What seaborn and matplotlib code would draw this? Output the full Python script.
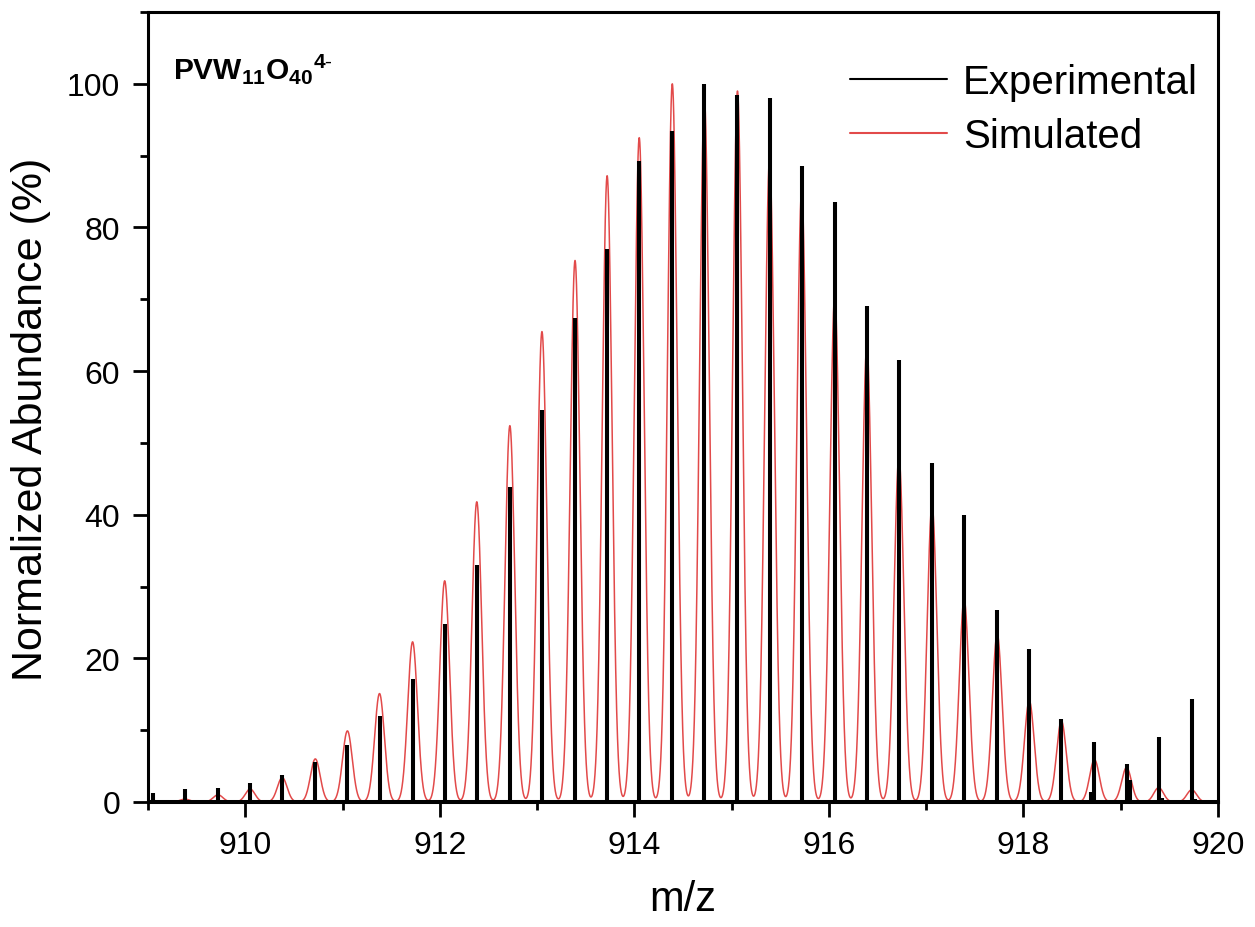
import numpy as np
import pandas as pd
import matplotlib
matplotlib.use("Agg")
import matplotlib.pyplot as plt
import seaborn as sns
from matplotlib.ticker import MultipleLocator
from matplotlib.lines import Line2D

# ---------------- data ----------------
peak_mz = [909.05, 909.38, 909.72, 910.05, 910.38, 910.72, 911.05, 911.38,
           911.72, 912.05, 912.38, 912.72, 913.05, 913.39, 913.72, 914.05,
           914.39, 914.72, 915.06, 915.39, 915.72, 916.06, 916.39, 916.72,
           917.06, 917.39, 917.73, 918.06, 918.39, 918.73, 919.06, 919.39,
           919.73]
exp_int = [1.3, 1.8, 2.0, 2.7, 3.8, 5.6, 8.0, 12.0, 17.1, 24.8, 33.0, 43.8,
           54.6, 67.4, 77.0, 89.2, 93.5, 100.0, 98.5, 98.0, 88.5, 83.5, 69.0,
           61.6, 47.2, 39.9, 26.8, 21.3, 11.6, 8.4, 5.3, 9.1, 14.4]
sim_int = [0.2, 0.4, 1.0, 1.8, 3.4, 6.0, 9.9, 15.1, 22.3, 30.8, 41.8, 52.4,
           65.5, 75.4, 87.2, 92.5, 100.0, 97.8, 99.0, 89.5, 85.2, 70.5, 63.5,
           48.0, 41.3, 28.2, 23.4, 14.1, 11.3, 5.9, 4.8, 2.0, 1.7]
# small satellite features in the experimental trace
sat_mz = [918.69, 919.095, 919.42, 919.76]
sat_int = [1.4, 3.1, 0.5, 0.4]

x_range = (909, 920)
y_range = (0, 110)
x_ticks = [910, 912, 914, 916, 918, 920]
y_ticks = [0, 20, 40, 60, 80, 100]
series_names = ["Experimental", "Simulated"]
annotation = r"$\mathbf{PVW_{11}O_{40}{}^{4\text{-}}}$"

# ---------------- build profiles ----------------
sticks = sorted(zip(peak_mz + sat_mz, exp_int + sat_int))
ex, ey = [x_range[0]], [0.0]
for m, h in sticks:
    ex += [m, m, m]
    ey += [0.0, h, 0.0]
ex.append(x_range[1]); ey.append(0.0)
exp_df = pd.DataFrame({"mz": ex, "intensity": ey, "series": series_names[0]})

sigma = 0.05  # simulated peak width (m/z)
grid = np.linspace(x_range[0], x_range[1], 11001)
prof = np.zeros_like(grid)
for m, h in zip(peak_mz, sim_int):
    prof += h * np.exp(-0.5 * ((grid - m) / sigma) ** 2)
sim_df = pd.DataFrame({"mz": grid, "intensity": prof, "series": series_names[1]})

# ---------------- style ----------------
sns.set_theme(style="ticks")
plt.rcParams["font.family"] = ["Liberation Sans", "DejaVu Sans"]
plt.rcParams["mathtext.fontset"] = "custom"
plt.rcParams["mathtext.rm"] = "Liberation Sans"
plt.rcParams["mathtext.bf"] = "Liberation Sans:bold"
plt.rcParams["mathtext.it"] = "Liberation Sans:italic"
for k in ["text.color", "axes.labelcolor", "xtick.color", "ytick.color",
          "axes.edgecolor"]:
    plt.rcParams[k] = "black"

red = "#E24A4A"
fig = plt.figure(figsize=(12.55, 9.28), dpi=100)
ax = fig.add_axes([148 / 1255, 1 - 803 / 928, (1218 - 148) / 1255, (803 - 13) / 928])

sns.lineplot(data=sim_df, x="mz", y="intensity", color=red, lw=1.1,
             estimator=None, sort=False, ax=ax, legend=False)
sns.lineplot(data=exp_df, x="mz", y="intensity", color="black", lw=2.9,
             estimator=None, sort=False, ax=ax, legend=False,
             solid_joinstyle="miter", solid_capstyle="butt")

ax.set_xlim(*x_range)
ax.set_ylim(*y_range)
ax.set_xticks(x_ticks)
ax.set_yticks(y_ticks)
ax.xaxis.set_minor_locator(MultipleLocator(1))
ax.yaxis.set_minor_locator(MultipleLocator(10))
ax.tick_params(which="major", direction="out", length=11, width=2.0,
               labelsize=23, pad=9, colors="black", top=False, right=False)
ax.tick_params(which="minor", direction="out", length=6, width=2.0,
               top=False, right=False)
for s in ax.spines.values():
    s.set_linewidth(2.2)
    s.set_color("black")
    s.set_visible(True)

ax.set_xlabel("m/z", fontsize=30, labelpad=14, color="black")
ax.set_ylabel("Normalized Abundance (%)", fontsize=31, color="black")
ax.yaxis.set_label_coords(-0.091, 0.485)

ax.text(0.023, 0.916, annotation, transform=ax.transAxes, fontsize=21.5,
        va="baseline", ha="left", color="black")

handles = [Line2D([], [], color="black", lw=1.5),
           Line2D([], [], color=red, lw=1.5)]
leg = ax.legend(handles, series_names, loc="upper left",
                bbox_to_anchor=((850 - 148) / 1070, 0.935), frameon=False,
                fontsize=29, handlelength=2.4, handletextpad=0.4,
                labelspacing=0.4, borderpad=0, borderaxespad=0)
for t in leg.get_texts():
    t.set_color("black")

fig.savefig("out.png", dpi=100, facecolor="white")
